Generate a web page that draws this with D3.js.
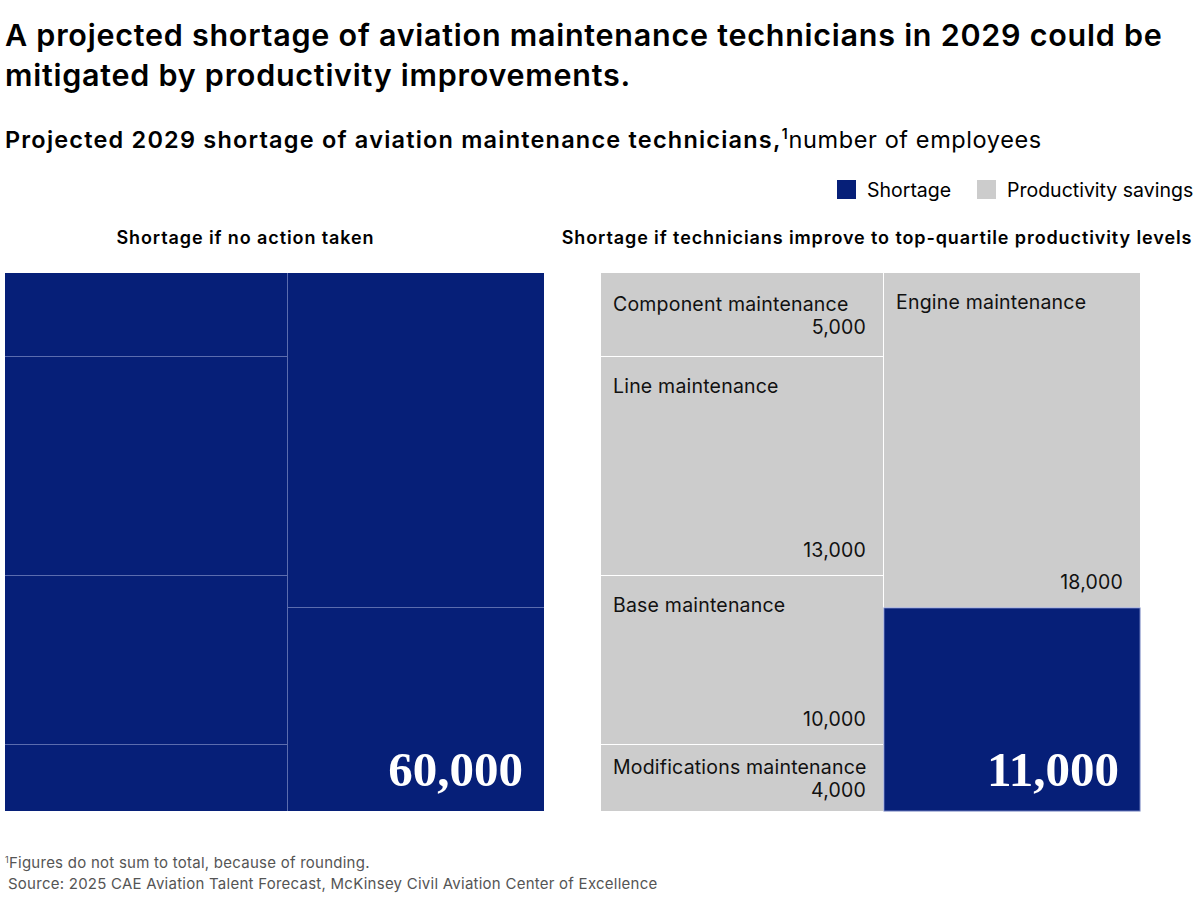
<!DOCTYPE html>
<html><head><meta charset="utf-8">
<script src="https://cdn.jsdelivr.net/npm/d3@7"></script>
<style>
body{margin:0;background:#fff;}
svg{display:block;}
</style></head>
<body><svg id="chart" width="1200" height="911"></svg>
<script>
// ---- data ----
const categories = ["Component maintenance","Line maintenance","Base maintenance","Modifications maintenance","Engine maintenance","Shortage"];
const columns = [0,0,0,0,1,1];
const savings = [5000,13000,10000,4000,18000,11000];
const kinds = ["savings","savings","savings","savings","savings","shortage"];
const totalNoAction = "60,000";
const totalImproved = "11,000";
const legendLabels = ["Shortage","Productivity savings"];

const NAVY = "#061f78", GRAY = "#cccccc";
const sans = "Inter, 'Noto Sans', sans-serif";
const serif = "'Liberation Serif', 'DejaVu Serif', serif";

const svg = d3.select("#chart");

// titles
const t = svg.append("g").attr("font-family", sans).attr("fill","#000");
t.append("text").attr("x",5).attr("y",46).attr("font-size",30.5).attr("font-weight",600).attr("letter-spacing",0.75)
  .text("A projected shortage of aviation maintenance technicians in 2029 could be");
t.append("text").attr("x",5).attr("y",86).attr("font-size",30.5).attr("font-weight",600).attr("letter-spacing",0.75)
  .text("mitigated by productivity improvements.");
const sub = t.append("text").attr("x",5).attr("y",148).attr("font-size",23.5);
sub.append("tspan").attr("font-weight",600).attr("letter-spacing",1.2).text("Projected 2029 shortage of aviation maintenance technicians,");
sub.append("tspan").attr("font-size",14).attr("dy",-9).attr("font-weight",600).text("1");
sub.append("tspan").attr("dy",9).attr("dx",1).attr("letter-spacing",0.6).attr("font-weight",400).text("number of employees");

// legend
const lg = svg.append("g").attr("font-family", sans).attr("font-size",19.5);
const legendX = [837, 977];
legendLabels.forEach((l,i)=>{
  lg.append("rect").attr("x",legendX[i]).attr("y",180).attr("width",19).attr("height",19)
    .attr("fill", i===0?NAVY:GRAY);
  lg.append("text").attr("x",legendX[i]+30).attr("y",197).text(l);
});

// panel headers
t.append("text").attr("x",245.5).attr("y",244).attr("text-anchor","middle").attr("letter-spacing",0.9)
  .attr("font-size",18).attr("font-weight",600).text("Shortage if no action taken");
t.append("text").attr("x",877).attr("y",244).attr("text-anchor","middle").attr("letter-spacing",0.9)
  .attr("font-size",18).attr("font-weight",600).text("Shortage if technicians improve to top-quartile productivity levels");

// hierarchy
const rows = categories.map((c,i)=>({name:c, col:columns[i], value:savings[i], kind:kinds[i]}));
const groups = d3.groups(rows, d=>d.col).map(([k,v])=>({name:"col"+k, children:v}));
function layout(x0,y0,x1,y1){
  const root = d3.hierarchy({name:"root", children:groups}).sum(d=>d.value||0);
  d3.treemap().tile(d3.treemapSliceDice).size([x1-x0,y1-y0]).paddingInner(1).round(true)(root);
  root.leaves().forEach(n=>{n.x0+=x0;n.x1+=x0;n.y0+=y0;n.y1+=y0;});
  return root;
}
const panelTop=273, panelBottom=811;

// left panel
const left = layout(5, panelTop, 544, panelBottom);
const gl = svg.append("g");
gl.append("rect").attr("x",5).attr("y",panelTop).attr("width",539).attr("height",panelBottom-panelTop).attr("fill","#5b6cae");
gl.selectAll("rect.c").data(left.leaves()).join("rect").attr("class","c")
  .attr("x",d=>d.x0).attr("y",d=>d.y0).attr("width",d=>d.x1-d.x0).attr("height",d=>d.y1-d.y0)
  .attr("fill",NAVY);
const lastL = left.leaves()[left.leaves().length-1];
gl.append("text").attr("x",lastL.x1-21).attr("y",lastL.y1-25).attr("text-anchor","end")
  .attr("font-family",serif).attr("font-weight",700).attr("font-size",49).attr("fill","#fff")
  .text(totalNoAction);

// right panel
const right = layout(601, panelTop, 1140, panelBottom);
const gr = svg.append("g");
gr.selectAll("rect.c").data(right.leaves()).join("rect").attr("class","c")
  .attr("x",d=>d.x0).attr("y",d=>d.y0).attr("width",d=>d.x1-d.x0).attr("height",d=>d.y1-d.y0)
  .attr("fill",d=>d.data.kind==="shortage"?NAVY:GRAY)
  .attr("stroke",d=>d.data.kind==="shortage"?"#6a7bbb":"none").attr("stroke-width",1);
const fmt = d3.format(",");
right.leaves().forEach(d=>{
  if(d.data.kind==="shortage"){
    gr.append("text").attr("x",d.x1-21).attr("y",d.y1-25).attr("text-anchor","end")
      .attr("font-family",serif).attr("font-weight",700).attr("font-size",49).attr("fill","#fff")
      .text(totalImproved);
    return;
  }
  const h = d.y1-d.y0;
  const g = gr.append("g").attr("font-family",sans).attr("font-size",19.5).attr("fill","#111").attr("letter-spacing",0.2);
  let ly, ny;
  if(h<100){ const c=(d.y0+d.y1)/2; ly=c-4; ny=c+19; }
  else { ly=d.y0+36; ny=d.y1-18; }
  g.append("text").attr("x",d.x0+12).attr("y",ly).text(d.data.name);
  g.append("text").attr("x",d.x1-17).attr("y",ny).attr("text-anchor","end").text(fmt(d.data.value));
});

// footnotes
const f = svg.append("g").attr("font-family",sans).attr("font-size",15).attr("fill","#555").attr("letter-spacing",0.25);
const fn = f.append("text").attr("x",5).attr("y",868);
fn.append("tspan").attr("font-size",9).attr("dy",-5).text("1");
fn.append("tspan").attr("dy",5).text("Figures do not sum to total, because of rounding.");
f.append("text").attr("x",8).attr("y",889).text("Source: 2025 CAE Aviation Talent Forecast, McKinsey Civil Aviation Center of Excellence");
</script></body></html>
